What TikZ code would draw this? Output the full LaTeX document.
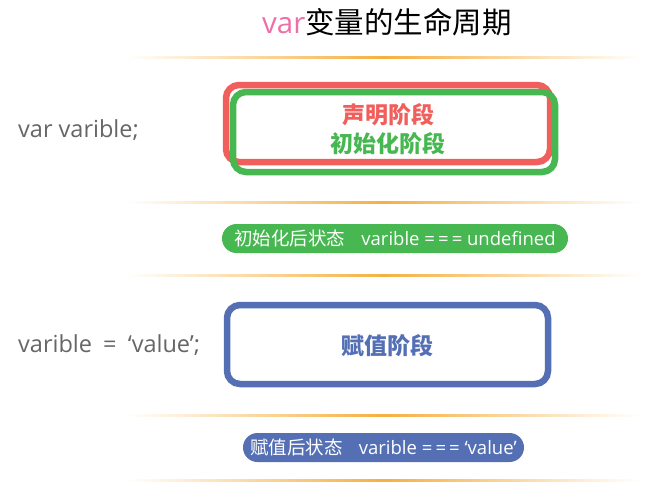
\documentclass[tikz,border=0pt]{standalone}
\usepackage{fontspec}
\setmainfont{Open Sans}
\newfontfamily\cjk{Noto Sans CJK SC}
\definecolor{cred}{HTML}{F05F5B}
\definecolor{cgreen}{HTML}{47B751}
\definecolor{cblue}{HTML}{546FB4}
\definecolor{cpink}{HTML}{EF6EA8}
\definecolor{corange}{HTML}{F5B041}
\definecolor{cgray}{HTML}{666666}
\begin{document}
\begin{tikzpicture}[x=1pt,y=-1pt,
  stagebox/.style={draw, line width=6.5pt, rounded corners=13pt, inner sep=0pt},
  pill/.style={fill, rounded corners=14.5pt, minimum height=29pt, inner sep=0pt, text=white, font=\fontsize{18.5}{22}\selectfont},
  lefttext/.style={anchor=west, text=cgray, font=\fontsize{23.5}{28}\selectfont, inner sep=0pt},
  boxtext/.style={font=\cjk\bfseries\fontsize{23}{26}\selectfont, inner sep=0pt},
  fadeline/.style={left color=white, right color=white, middle color=corange}
]
\useasboundingbox (0,0) rectangle (655,501);
% title
\node[inner sep=0pt, font=\fontsize{29.5}{34}\selectfont] (title) at (387,22) {\textcolor{cpink}{var}{\cjk 变量的生命周期}};
% fade lines
\foreach \yy in {57,202,275,415,480}{
  \shade[fadeline] (127,\yy-1) rectangle (640,\yy+1);
}
% boxes
\node[stagebox, draw=cred, minimum width=324pt, minimum height=77pt] (decl) at (388,123.5) {};
\node[stagebox, draw=cgreen, minimum width=322pt, minimum height=80pt] (init) at (394,132) {};
\node[boxtext, text=cred] (declt) at (388,115) {声明阶段};
\node[boxtext, text=cgreen] (initt) at (388,144) {初始化阶段};
\node[lefttext] (code1) at (18,130) {var varible;};
\node[pill, fill=cgreen, minimum width=346pt] (state1) at (395,238.5) {{\cjk 初始化后状态}\hspace{16pt}varible =\,=\,= undefined};
\node[stagebox, draw=cblue, minimum width=321pt, minimum height=79pt] (assign) at (387.5,344.5) {};
\node[boxtext, text=cblue] (assignt) at (387.5,346) {赋值阶段};
\node[lefttext] (code2) at (18,345) {varible\hspace{5pt} = \hspace{5pt}‘value’;};
\node[pill, fill=cblue, minimum width=281pt] (state2) at (383.5,447.5) {{\cjk 赋值后状态}\hspace{16pt}varible =\,=\,= ‘value’};
\end{tikzpicture}
\end{document}
